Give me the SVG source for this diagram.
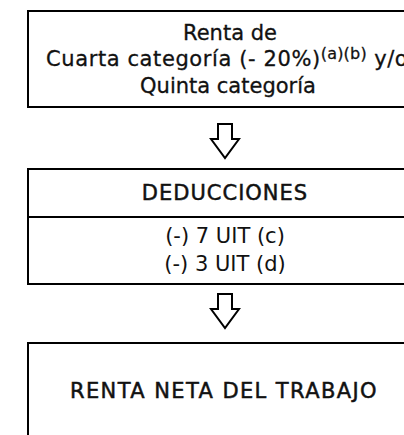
<svg xmlns="http://www.w3.org/2000/svg" width="404" height="435" viewBox="0 0 404 435">
<style>
.box{fill:#fff;stroke:#000;stroke-width:2}
.arr{fill:#fff;stroke:#000;stroke-width:2;stroke-linejoin:miter}
text{font-family:"DejaVu Sans","Liberation Sans",sans-serif;fill:#111;text-anchor:middle}
.t{font-size:21px}
.m{stroke:#111;stroke-width:0.3}
.h{font-size:21px;font-weight:normal;letter-spacing:1px;stroke:#111;stroke-width:0.5}
</style>
<defs>
<path id="arrow" d="M218,0 H232 V15 H239 L225,34 L211,15 H218 Z"/>
</defs>
<g id="n1">
<rect class="box" x="28" y="11" width="420" height="96"/>
<text class="t m" x="230" y="40">Renta de</text>
<text class="t m" x="46" y="66" style="text-anchor:start;letter-spacing:0.6px">Cuarta categoría (- 20%)<tspan font-size="16" dy="-7" letter-spacing="0.2">(a)(b)</tspan><tspan dy="7" letter-spacing="0.6"> y/o</tspan></text>
<text class="t m" x="228" y="93">Quinta categoría</text>
</g>
<g id="n2">
<rect class="box" x="28" y="169" width="420" height="115"/>
<line x1="28" y1="217" x2="404" y2="217" stroke="#000" stroke-width="2"/>
<text class="h" x="225" y="200">DEDUCCIONES</text>
<text class="t" x="225" y="243">(-) 7 UIT (c)</text>
<text class="t" x="225" y="271">(-) 3 UIT (d)</text>
</g>
<g id="n3">
<rect class="box" x="28" y="343" width="420" height="120"/>
<text class="h" x="224" y="398" style="letter-spacing:1.4px">RENTA NETA DEL TRABAJO</text>
</g>
<g id="connectors">
<use href="#arrow" class="arr" transform="translate(0,124)"/>
<use href="#arrow" class="arr" transform="translate(0,294)"/>
</g>
</svg>
